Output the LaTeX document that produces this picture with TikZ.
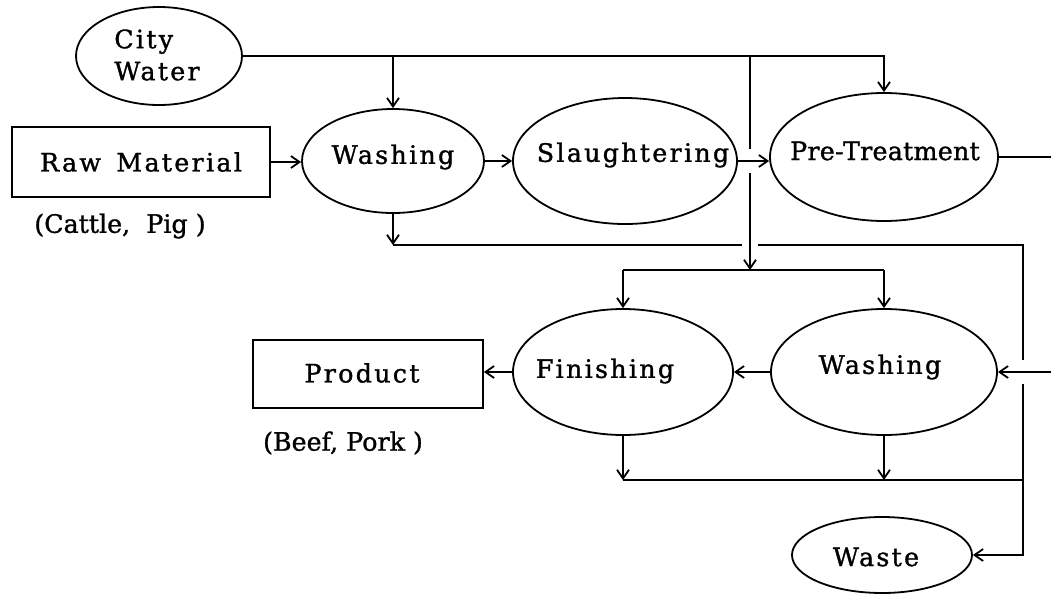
\documentclass[tikz,border=0pt]{standalone}
\usepackage{fontspec}
\setmainfont{DejaVu Serif}[FakeBold=1.2]
\newfontfamily\spacedfont{DejaVu Serif}[LetterSpace=9,FakeBold=1.2]
\newfontfamily\tightfont{DejaVu Serif}[LetterSpace=1,FakeBold=1.2]
\usetikzlibrary{shapes.geometric,arrows.meta,calc}
\begin{document}
\begin{tikzpicture}[x=0.75pt,y=-0.75pt,line width=1.35pt,
  sz/.style 2 args={minimum width=#1*0.75pt,minimum height=#2*0.75pt},
  proc/.style={ellipse,draw,inner sep=0pt},
  box/.style={rectangle,draw,inner sep=0pt},
  txt/.style={inner sep=0pt,font=\spacedfont\fontsize{19}{24}\selectfont},
  txtn/.style={inner sep=0pt,font=\tightfont\fontsize{19}{24}\selectfont},
  note/.style={inner sep=0pt,font=\fontsize{19}{22}\selectfont},
  flow/.style={-{Straight Barb[length=6.5pt,width=9pt]}},
  gapv/.style={draw=white,line width=16*0.75pt},
  gaph/.style={draw=white,line width=24*0.75pt}]
\useasboundingbox (0,0) rectangle (1051,594);

% shapes
\node[proc,sz={166}{98}] (cw) at (159,56) {};
\node[txt,align=left] (cwt) at (157,55) {City\\Water};
\node[box,sz={258}{70}] (raw) at (141,162) {};
\node[txt] (rawt) at (141,162) {Raw\hspace{0.6em}Material};
\node[proc,sz={182}{104}] (w1) at (393,161) {};
\node[txt] (w1t) at (393,157) {Washing};
\node[proc,sz={224}{126}] (sl) at (625,161) {};
\node[txt] (slt) at (633,155) {Slaughtering};
\node[proc,sz={228}{128}] (pt) at (884,157) {};
\node[txtn] (ptt) at (885,151) {Pre-Treatment};
\node[proc,sz={220}{126}] (fin) at (623,372) {};
\node[txt] (fint) at (605,371) {Finishing};
\node[proc,sz={226}{126}] (w2) at (884,372) {};
\node[txt] (w2t) at (880,367) {Washing};
\node[box,sz={230}{68}] (prod) at (368,374) {};
\node[txt] (prodt) at (362,373) {Product};
\node[proc,sz={180}{76}] (waste) at (882,555) {};
\node[txt] (wastet) at (876,557) {Waste};
\node[note] (lab1) at (120,226) {(Cattle,\ \ Pig )};
\node[note] (lab2) at (343,443) {(Beef,\ Pork )};

% helper coordinates
\coordinate (edge) at (1051,0);
\coordinate (split) at (750,270);
\coordinate (wl) at (1023,245);
\coordinate (bl) at (1023,480);

% wash water to waste
\draw[flow] (w1.south) -- (w1.south |- wl);
\draw[flow] (w1.south |- wl) -- (wl) -- (wl |- waste.east) -- (waste.east);
\draw[gapv] ($(split |- wl)+(0,-8)$) -- ($(split |- wl)+(0,8)$);

% city water
\draw[flow] (cw.east) -| (pt.north);
\draw[flow] (cw.east -| w1.north) -- (w1.north);
\draw[flow] (cw.east -| split) -- (split);
\draw[gaph] ($(split |- sl.east)+(-6,0)$) -- ($(split |- sl.east)+(6,0)$);

% main line
\draw[flow] (raw.east) -- (raw.east -| w1.west);
\draw[flow] (w1.east) -- (w1.east -| sl.west);
\draw[flow] (sl.east) -- (sl.east -| pt.west);
\draw (pt.east) -- (pt.east -| edge);

% split to finishing and washing
\draw (fin.north |- split) -- (w2.north |- split);
\draw[flow] (fin.north |- split) -- (fin.north);
\draw[flow] (w2.north |- split) -- (w2.north);

% to waste collector
\draw[flow] (fin.south) -- (fin.south |- bl);
\draw[flow] (w2.south) -- (w2.south |- bl);
\draw (fin.south |- bl) -- (bl);

% return from pre-treatment
\draw[gaph] ($(wl |- w2.east)+(-6,0)$) -- ($(wl |- w2.east)+(6,0)$);
\draw[flow] (w2.east -| edge) -- (w2.east);
\draw[flow] (w2.west) -- (fin.east);
\draw[flow] (fin.west) -- (fin.west -| prod.east);
\end{tikzpicture}
\end{document}
